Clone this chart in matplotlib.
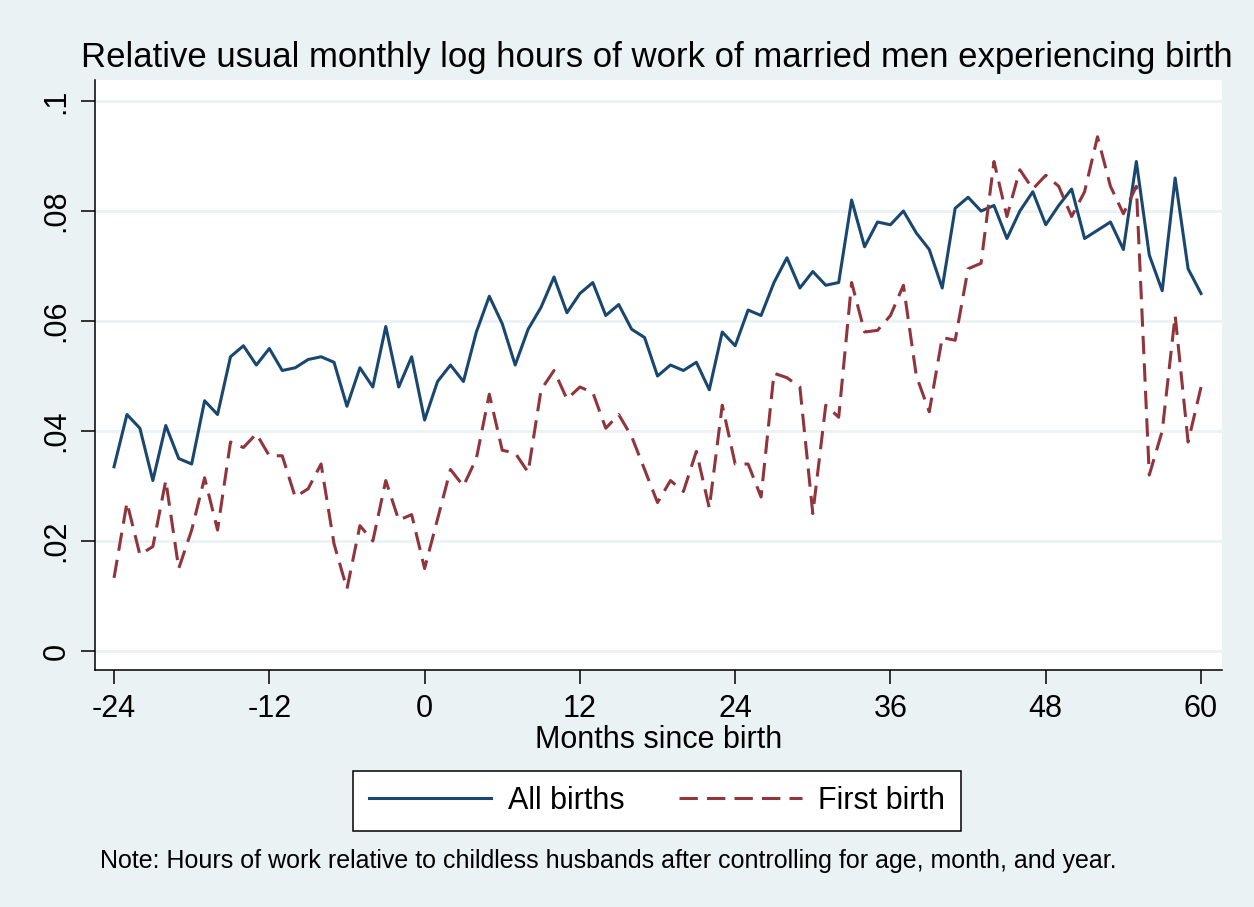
import numpy as np
import matplotlib
matplotlib.use("Agg")
import matplotlib.pyplot as plt

plt.rcParams['font.family'] = ['Liberation Sans', 'DejaVu Sans']
plt.rcParams['axes.unicode_minus'] = False

# months since birth
months = list(range(-24, 61))

# relative log hours, all births
all_births = [
    0.0335, 0.043, 0.0405, 0.031, 0.041, 0.035, 0.034, 0.0455, 0.043, 0.0535,
    0.0555, 0.052, 0.055, 0.051, 0.0515, 0.053, 0.0535, 0.0525, 0.0445, 0.0515,
    0.048, 0.059, 0.048, 0.0535, 0.042, 0.049, 0.052, 0.049, 0.058, 0.0645,
    0.0595, 0.052, 0.0585, 0.0625, 0.068, 0.0615, 0.065, 0.067, 0.061, 0.063,
    0.0585, 0.057, 0.050, 0.052, 0.051, 0.0525, 0.0475, 0.058, 0.0555, 0.062,
    0.061, 0.067, 0.0715, 0.066, 0.069, 0.0665, 0.067, 0.082, 0.0735, 0.078,
    0.0775, 0.080, 0.076, 0.073, 0.066, 0.0805, 0.0825, 0.080, 0.081, 0.075,
    0.080, 0.0835, 0.0775, 0.081, 0.084, 0.075, 0.0765, 0.078, 0.073, 0.089,
    0.072, 0.0655, 0.086, 0.0695, 0.065,
]

# relative log hours, first birth
first_birth = [
    0.0133, 0.027, 0.0175, 0.019, 0.031, 0.015, 0.022, 0.0315, 0.022, 0.038,
    0.037, 0.0395, 0.0355, 0.0355, 0.028, 0.0295, 0.034, 0.0195, 0.0113, 0.0228,
    0.020, 0.031, 0.0238, 0.0248, 0.015, 0.024, 0.033, 0.030, 0.035, 0.0467,
    0.0365, 0.036, 0.0325, 0.0475, 0.051, 0.0458, 0.048, 0.047, 0.0405, 0.043,
    0.039, 0.033, 0.027, 0.031, 0.029, 0.0363, 0.026, 0.0447, 0.034, 0.034,
    0.028, 0.0505, 0.0497, 0.048, 0.025, 0.0447, 0.0425, 0.067, 0.058, 0.0583,
    0.061, 0.0665, 0.050, 0.0435, 0.057, 0.0565, 0.0695, 0.0705, 0.089, 0.079,
    0.0875, 0.084, 0.0865, 0.0845, 0.079, 0.0835, 0.0935, 0.0845, 0.0795, 0.0845,
    0.032, 0.040, 0.061, 0.038, 0.048,
]

xticks = [-24, -12, 0, 12, 24, 36, 48, 60]
yticks = [0, 0.02, 0.04, 0.06, 0.08, 0.1]
ylabels = ['0', '.02', '.04', '.06', '.08', '.1']

bg = '#EAF2F3'
blue = '#1A476F'
red = '#90353B'

fig = plt.figure(figsize=(12.54, 9.07), dpi=100)
fig.patch.set_facecolor(bg)

W, H = 1254, 907
ax = fig.add_axes([95 / W, 1 - 670 / H, 1127 / W, 590 / H])
ax.set_facecolor('white')

ax.plot(months, all_births, color=blue, lw=2.2, label='All births')
ax.plot(months, first_birth, color=red, lw=2.2, dashes=(6, 3), label='First birth')

ax.set_xlim(-25.47, 61.62)
ax.set_ylim(-0.00345, 0.10382)
ax.set_xticks(xticks)
ax.set_yticks(yticks)
ax.set_yticklabels(ylabels, rotation=90, va='center')
ax.tick_params(axis='both', labelsize=22, length=10, width=1.1, color='black')
ax.tick_params(axis='y', pad=7)
ax.tick_params(axis='x', pad=7)
ax.grid(axis='y', color=bg, lw=2)
ax.set_axisbelow(True)
for s in ['top', 'right']:
    ax.spines[s].set_visible(False)
for s in ['left', 'bottom']:
    ax.spines[s].set_linewidth(1.1)

ax.set_xlabel('Months since birth', fontsize=22)
ax.xaxis.set_label_coords(0.5, (670 - 740) / 590)
ax.xaxis.label.set_va('center')

fig.text(657 / W, 1 - 67 / H,
         'Relative usual monthly log hours of work of married men experiencing birth',
         fontsize=25, ha='center', va='baseline')

leg = ax.legend(loc='center', bbox_to_anchor=(657 / W, 1 - 801 / H),
                bbox_transform=fig.transFigure, ncol=2, fontsize=22,
                frameon=True, fancybox=False, edgecolor='black',
                handlelength=4.0, handletextpad=0.55, columnspacing=1.8,
                borderpad=0.5)
leg.get_frame().set_linewidth(1.1)
leg.get_frame().set_alpha(1)

fig.text(100 / W, 1 - 868 / H,
         'Note: Hours of work relative to childless husbands after controlling for age, month, and year.',
         fontsize=18, ha='left', va='baseline')

fig.savefig('out.png', dpi=100, facecolor=fig.get_facecolor())
